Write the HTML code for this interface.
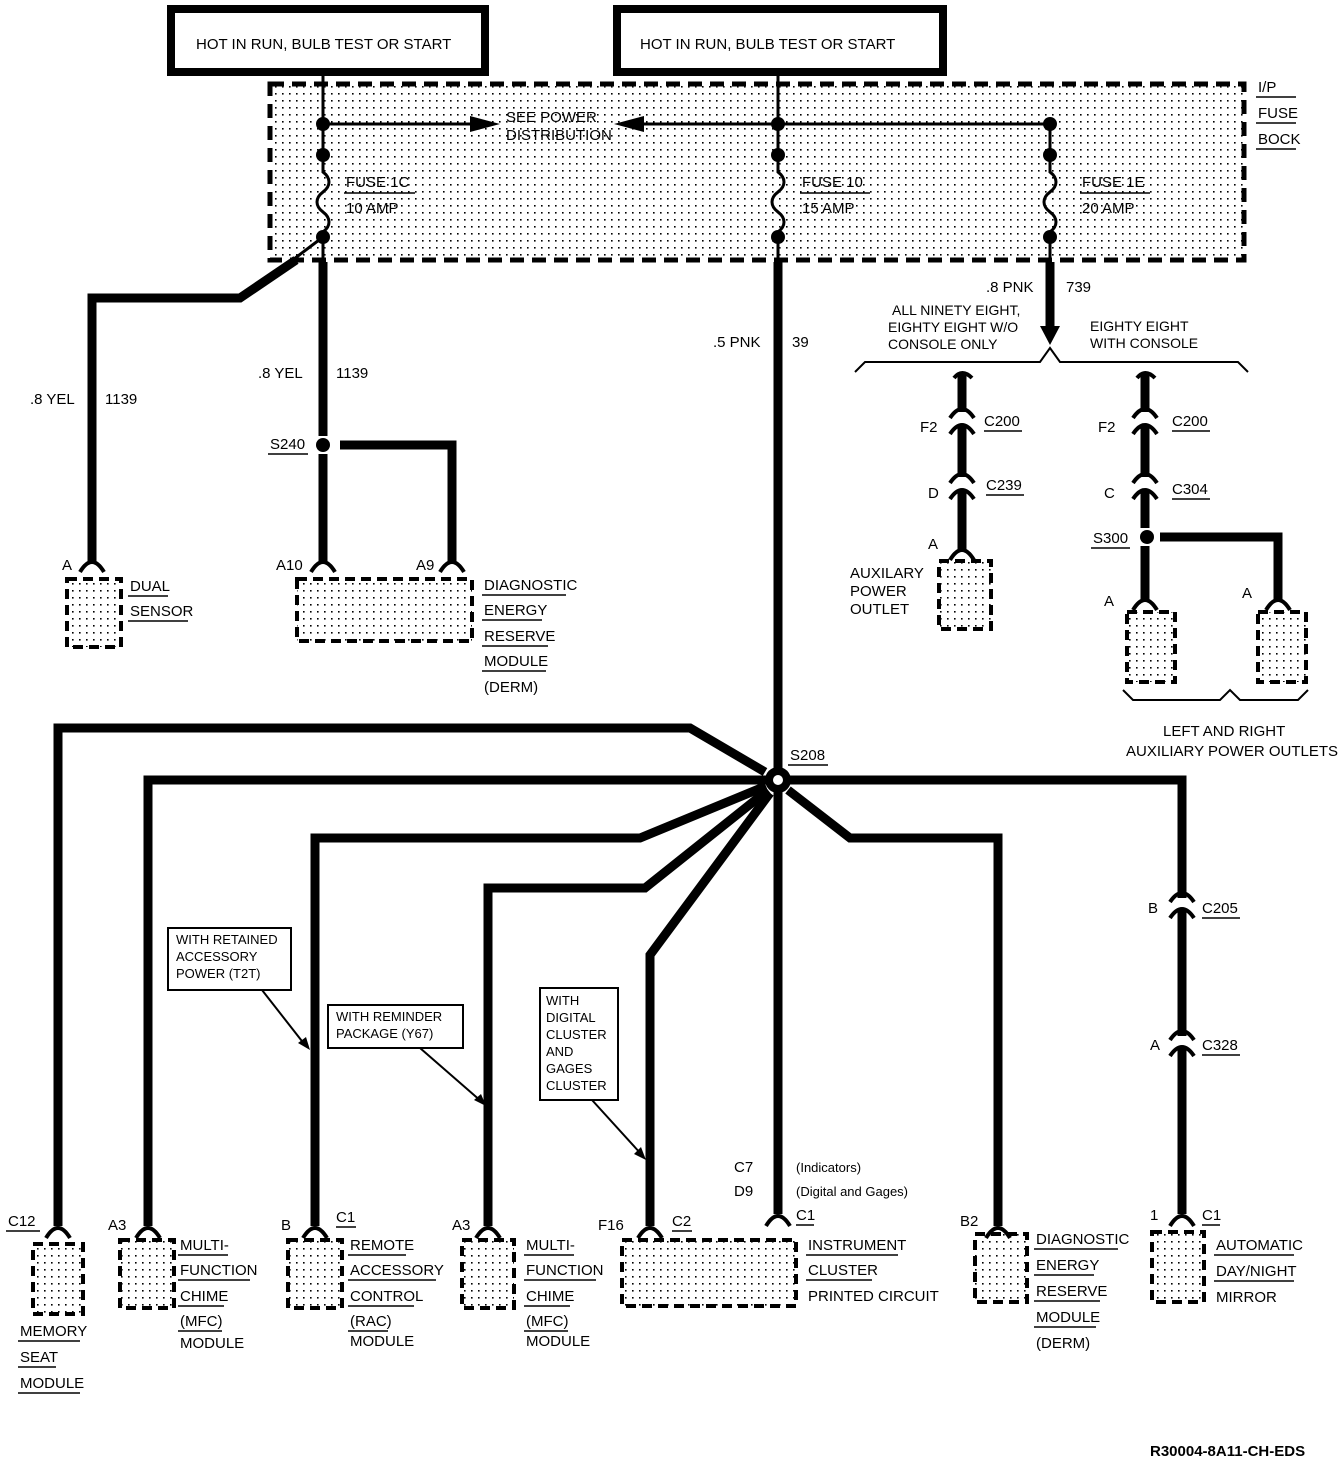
<!DOCTYPE html>
<html><head><meta charset="utf-8"><style>
html,body{margin:0;padding:0;background:#fff}
svg{display:block}
text{font-family:"Liberation Sans",sans-serif;font-size:15px;fill:#000}
</style></head><body>
<svg width="1344" height="1466" viewBox="0 0 1344 1466" xmlns="http://www.w3.org/2000/svg">
<defs>
<pattern id="dots" width="7" height="7" patternUnits="userSpaceOnUse"><rect x="2" y="2" width="1.6" height="1.6" fill="#000"/></pattern>
</defs>
<g fill="none" stroke="#000">
<!-- top boxes -->
<rect x="171" y="9" width="314" height="63" stroke-width="8"/>
<rect x="617" y="9" width="326" height="63" stroke-width="8"/>
<!-- fuse block -->
<rect x="270" y="84" width="974" height="176" fill="url(#dots)" stroke-width="5" stroke-dasharray="14,8"/>
</g>
<text x="196" y="49" font-size="14">HOT IN RUN, BULB TEST OR START</text>
<text x="640" y="49" font-size="14">HOT IN RUN, BULB TEST OR START</text>
<text x="1258" y="92">I/P</text><text x="1258" y="118">FUSE</text><text x="1258" y="144">BOCK</text>
<g stroke="#000" stroke-width="1.5"><line x1="1256" y1="97" x2="1296" y2="97"/><line x1="1256" y1="123" x2="1296" y2="123"/><line x1="1256" y1="149" x2="1296" y2="149"/></g>
<text x="506" y="122">SEE POWER</text><text x="506" y="140">DISTRIBUTION</text>
<g fill="none" stroke="#000" stroke-width="3">
<!-- fuse wires -->
<path d="M323 74 V172 c8 6 8 14 0 20 c-8 6 -8 14 0 20 c8 6 8 14 0 20 V262"/>
<path d="M778 74 V172 c8 6 8 14 0 20 c-8 6 -8 14 0 20 c8 6 8 14 0 20 V262"/>
<path d="M1050 124 V172 c8 6 8 14 0 20 c-8 6 -8 14 0 20 c8 6 8 14 0 20 V262"/>
<line x1="323" y1="124" x2="480" y2="124"/>
<line x1="1050" y1="124" x2="635" y2="124"/>
<line x1="323" y1="237" x2="290" y2="262"/>
</g>
<polygon points="500,124 470,116 470,132" fill="#000"/>
<polygon points="614,124 644,116 644,132" fill="#000"/>
<g fill="#000"><circle cx="323" cy="124" r="7"/><circle cx="323" cy="155" r="7"/><circle cx="323" cy="237" r="7"/>
<circle cx="778" cy="124" r="7"/><circle cx="778" cy="155" r="7"/><circle cx="778" cy="237" r="7"/>
<circle cx="1050" cy="124" r="7"/><circle cx="1050" cy="155" r="7"/><circle cx="1050" cy="237" r="7"/></g>
<text x="346" y="187">FUSE 1C</text><text x="346" y="213">10 AMP</text>
<text x="802" y="187">FUSE 10</text><text x="802" y="213">15 AMP</text>
<text x="1082" y="187">FUSE 1E</text><text x="1082" y="213">20 AMP</text>
<g stroke="#000" stroke-width="1.5"><line x1="344" y1="193" x2="415" y2="193"/><line x1="800" y1="193" x2="870" y2="193"/><line x1="1080" y1="193" x2="1150" y2="193"/></g>

<!-- heavy wires -->
<g fill="none" stroke="#000" stroke-width="9">
<path d="M296 260 L240 298 H92 V562"/>
<path d="M323 262 V436"/><path d="M323 454 V562"/>
<path d="M340 445 H452 V562"/>
<path d="M778 262 V770"/>
<path d="M1050 262 V328"/>
<path d="M962 375 V552"/>
<path d="M1145 375 V528"/><path d="M1145 546 V602"/>
<path d="M1160 537 H1278 V602"/>
<!-- S208 branches -->
<path d="M765 772 L690 728 H58 V1226"/>
<path d="M766 780 H148 V1226"/>
<path d="M766 786 L640 838 H315 V1226"/>
<path d="M768 790 L645 888 H488 V1226"/>
<path d="M770 793 L650 955 V1226"/>
<path d="M778 792 V1214"/>
<path d="M788 790 L850 838 H998 V1226"/>
<path d="M790 780 H1182 V1214"/>
</g>
<polygon points="1050,345 1040,326 1060,326" fill="#000"/>
<circle cx="323" cy="445" r="7" fill="#000"/>
<circle cx="1147" cy="537" r="7" fill="#000"/>
<circle cx="778" cy="780" r="13" fill="#000"/><circle cx="778" cy="780" r="5" fill="#fff"/>

<!-- inline connectors: white gaps + arcs -->
<g fill="#fff" stroke="none">
<rect x="950" y="412" width="24" height="12"/><rect x="950" y="477" width="24" height="12"/>
<rect x="1133" y="412" width="24" height="12"/><rect x="1133" y="477" width="24" height="12"/>
<rect x="1170" y="898" width="24" height="12"/><rect x="1170" y="1036" width="24" height="12"/>
</g>
<g fill="none" stroke="#000" stroke-width="4">
<path d="M950 418 Q962 400 974 418"/><path d="M950 434 Q962 416 974 434"/>
<path d="M950 483 Q962 465 974 483"/><path d="M950 499 Q962 481 974 499"/>
<path d="M1133 418 Q1145 400 1157 418"/><path d="M1133 434 Q1145 416 1157 434"/>
<path d="M1133 483 Q1145 465 1157 483"/><path d="M1133 499 Q1145 481 1157 499"/>
<path d="M1170 902 Q1182 884 1194 902"/><path d="M1170 918 Q1182 900 1194 918"/>
<path d="M1170 1040 Q1182 1022 1194 1040"/><path d="M1170 1056 Q1182 1038 1194 1056"/>
<path d="M954 378 Q962 368 972 378"/><path d="M1137 378 Q1145 368 1155 378"/>
<!-- terminal arcs -->
<path d="M80 572 Q92 552 104 572"/><path d="M311 572 Q323 552 335 572"/><path d="M440 572 Q452 552 464 572"/>
<path d="M950 560 Q962 540 974 560"/>
<path d="M1133 610 Q1145 590 1157 610"/><path d="M1266 610 Q1278 590 1290 610"/>
<path d="M46 1238 Q58 1218 70 1238"/><path d="M136 1238 Q148 1218 160 1238"/><path d="M303 1238 Q315 1218 327 1238"/>
<path d="M476 1238 Q488 1218 500 1238"/><path d="M638 1238 Q650 1218 662 1238"/><path d="M766 1226 Q778 1206 790 1226"/>
<path d="M986 1238 Q998 1218 1010 1238"/><path d="M1170 1226 Q1182 1206 1194 1226"/>
<!-- brackets -->
<path d="M855 372 L865 362 H1040 L1050 348 L1060 362 H1238 L1248 372" stroke-width="2"/>
<path d="M1123 690 L1133 700 H1220 L1230 690 L1240 700 H1298 L1308 690" stroke-width="2"/>
</g>

<!-- component boxes -->
<g fill="url(#dots)" stroke="#000" stroke-width="4" stroke-dasharray="10,6">
<rect x="67" y="579" width="54" height="68"/>
<rect x="297" y="579" width="175" height="62"/>
<rect x="939" y="561" width="52" height="68"/>
<rect x="1127" y="612" width="48" height="70"/>
<rect x="1258" y="612" width="48" height="70"/>
<rect x="33" y="1244" width="50" height="70"/>
<rect x="120" y="1240" width="54" height="68"/>
<rect x="288" y="1240" width="54" height="68"/>
<rect x="462" y="1240" width="52" height="68"/>
<rect x="622" y="1240" width="174" height="66"/>
<rect x="975" y="1234" width="52" height="68"/>
<rect x="1152" y="1232" width="52" height="70"/>
</g>

<!-- callouts -->
<g fill="#fff" stroke="#000" stroke-width="2">
<rect x="168" y="928" width="123" height="62"/>
<rect x="328" y="1005" width="135" height="43"/>
<rect x="540" y="988" width="78" height="112"/>
</g>
<g stroke="#000" stroke-width="2"><line x1="262" y1="990" x2="305" y2="1045"/><line x1="420" y1="1048" x2="482" y2="1102"/><line x1="592" y1="1100" x2="642" y2="1155"/></g>
<polygon points="310,1050 298,1043 306,1037" fill="#000"/><polygon points="486,1106 474,1100 481,1094" fill="#000"/><polygon points="646,1160 634,1154 641,1147" fill="#000"/>
<g font-size="13">
<text x="176" y="944" style="font-size:13px">WITH RETAINED</text><text x="176" y="961" style="font-size:13px">ACCESSORY</text><text x="176" y="978" style="font-size:13px">POWER (T2T)</text>
<text x="336" y="1021" style="font-size:13px">WITH REMINDER</text><text x="336" y="1038" style="font-size:13px">PACKAGE (Y67)</text>
<text x="546" y="1005" style="font-size:13px">WITH</text><text x="546" y="1022" style="font-size:13px">DIGITAL</text><text x="546" y="1039" style="font-size:13px">CLUSTER</text><text x="546" y="1056" style="font-size:13px">AND</text><text x="546" y="1073" style="font-size:13px">GAGES</text><text x="546" y="1090" style="font-size:13px">CLUSTER</text>
</g>

<!-- wire labels -->
<text x="30" y="404">.8 YEL</text><text x="105" y="404">1139</text>
<text x="258" y="378">.8 YEL</text><text x="336" y="378">1139</text>
<text x="713" y="347">.5 PNK</text><text x="792" y="347">39</text>
<text x="986" y="292">.8 PNK</text><text x="1066" y="292">739</text>
<text x="892" y="315" style="font-size:14px">ALL NINETY EIGHT,</text><text x="888" y="332" style="font-size:14px">EIGHTY EIGHT W/O</text><text x="888" y="349" style="font-size:14px">CONSOLE ONLY</text>
<text x="1090" y="331" style="font-size:14px">EIGHTY EIGHT</text><text x="1090" y="348" style="font-size:14px">WITH CONSOLE</text>

<text x="920" y="432">F2</text><text x="984" y="426">C200</text>
<text x="928" y="498">D</text><text x="986" y="490">C239</text>
<text x="928" y="549">A</text>
<text x="850" y="578">AUXILARY</text><text x="850" y="596">POWER</text><text x="850" y="614">OUTLET</text>
<text x="1098" y="432">F2</text><text x="1172" y="426">C200</text>
<text x="1104" y="498">C</text><text x="1172" y="494">C304</text>
<text x="1093" y="543">S300</text>
<text x="1104" y="606">A</text><text x="1242" y="598">A</text>
<text x="1163" y="736">LEFT AND RIGHT</text><text x="1126" y="756">AUXILIARY POWER OUTLETS</text>
<text x="270" y="449">S240</text>
<text x="62" y="570">A</text><text x="276" y="570">A10</text><text x="416" y="570">A9</text>
<text x="130" y="591">DUAL</text><text x="130" y="616">SENSOR</text>
<text x="484" y="590">DIAGNOSTIC</text><text x="484" y="615">ENERGY</text><text x="484" y="641">RESERVE</text><text x="484" y="666">MODULE</text><text x="484" y="692">(DERM)</text>
<text x="790" y="760">S208</text>
<text x="1148" y="913">B</text><text x="1202" y="913">C205</text>
<text x="1150" y="1050">A</text><text x="1202" y="1050">C328</text>
<text x="734" y="1172">C7</text><text x="734" y="1196">D9</text>
<text x="796" y="1172" style="font-size:13px">(Indicators)</text><text x="796" y="1196" style="font-size:13px">(Digital and Gages)</text>
<text x="8" y="1226">C12</text><text x="108" y="1230">A3</text><text x="281" y="1230">B</text><text x="336" y="1222">C1</text>
<text x="452" y="1230">A3</text><text x="598" y="1230">F16</text><text x="672" y="1226">C2</text><text x="796" y="1220">C1</text>
<text x="960" y="1226">B2</text><text x="1150" y="1220">1</text><text x="1202" y="1220">C1</text>
<text x="20" y="1336">MEMORY</text><text x="20" y="1362">SEAT</text><text x="20" y="1388">MODULE</text>
<text x="180" y="1250">MULTI-</text><text x="180" y="1275">FUNCTION</text><text x="180" y="1301">CHIME</text><text x="180" y="1326">(MFC)</text><text x="180" y="1348">MODULE</text>
<text x="350" y="1250">REMOTE</text><text x="350" y="1275">ACCESSORY</text><text x="350" y="1301">CONTROL</text><text x="350" y="1326">(RAC)</text><text x="350" y="1346">MODULE</text>
<text x="526" y="1250">MULTI-</text><text x="526" y="1275">FUNCTION</text><text x="526" y="1301">CHIME</text><text x="526" y="1326">(MFC)</text><text x="526" y="1346">MODULE</text>
<text x="808" y="1250">INSTRUMENT</text><text x="808" y="1275">CLUSTER</text><text x="808" y="1301">PRINTED CIRCUIT</text>
<text x="1036" y="1244">DIAGNOSTIC</text><text x="1036" y="1270">ENERGY</text><text x="1036" y="1296">RESERVE</text><text x="1036" y="1322">MODULE</text><text x="1036" y="1348">(DERM)</text>
<text x="1216" y="1250">AUTOMATIC</text><text x="1216" y="1276">DAY/NIGHT</text><text x="1216" y="1302">MIRROR</text>
<g stroke="#000" stroke-width="1.5">
<line x1="984" y1="431" x2="1022" y2="431"/><line x1="986" y1="495" x2="1024" y2="495"/>
<line x1="1172" y1="431" x2="1210" y2="431"/><line x1="1172" y1="499" x2="1210" y2="499"/>
<line x1="1091" y1="548" x2="1130" y2="548"/><line x1="268" y1="454" x2="308" y2="454"/>
<line x1="788" y1="765" x2="828" y2="765"/><line x1="1202" y1="918" x2="1240" y2="918"/><line x1="1202" y1="1055" x2="1240" y2="1055"/>
<line x1="6" y1="1231" x2="40" y2="1231"/><line x1="336" y1="1227" x2="356" y2="1227"/><line x1="672" y1="1231" x2="692" y2="1231"/>
<line x1="796" y1="1225" x2="814" y2="1225"/><line x1="1202" y1="1225" x2="1220" y2="1225"/>
<line x1="128" y1="596" x2="168" y2="596"/><line x1="128" y1="621" x2="188" y2="621"/>
<line x1="482" y1="595" x2="566" y2="595"/><line x1="482" y1="620" x2="542" y2="620"/><line x1="482" y1="646" x2="548" y2="646"/><line x1="482" y1="671" x2="546" y2="671"/>
<line x1="18" y1="1341" x2="80" y2="1341"/><line x1="18" y1="1367" x2="56" y2="1367"/><line x1="18" y1="1393" x2="80" y2="1393"/>
<line x1="178" y1="1255" x2="228" y2="1255"/><line x1="178" y1="1280" x2="250" y2="1280"/><line x1="178" y1="1306" x2="224" y2="1306"/><line x1="178" y1="1331" x2="222" y2="1331"/>
<line x1="348" y1="1255" x2="406" y2="1255"/><line x1="348" y1="1280" x2="436" y2="1280"/><line x1="348" y1="1306" x2="414" y2="1306"/><line x1="348" y1="1331" x2="388" y2="1331"/>
<line x1="524" y1="1255" x2="574" y2="1255"/><line x1="524" y1="1280" x2="596" y2="1280"/><line x1="524" y1="1306" x2="570" y2="1306"/><line x1="524" y1="1331" x2="568" y2="1331"/>
<line x1="806" y1="1255" x2="898" y2="1255"/><line x1="806" y1="1280" x2="872" y2="1280"/>
<line x1="1034" y1="1249" x2="1118" y2="1249"/><line x1="1034" y1="1275" x2="1094" y2="1275"/><line x1="1034" y1="1301" x2="1100" y2="1301"/><line x1="1034" y1="1327" x2="1096" y2="1327"/>
<line x1="1214" y1="1255" x2="1294" y2="1255"/><line x1="1214" y1="1281" x2="1294" y2="1281"/>
</g>
<text x="1150" y="1456" style="font-size:15px;font-weight:bold">R30004-8A11-CH-EDS</text>
</svg>
</body></html>
